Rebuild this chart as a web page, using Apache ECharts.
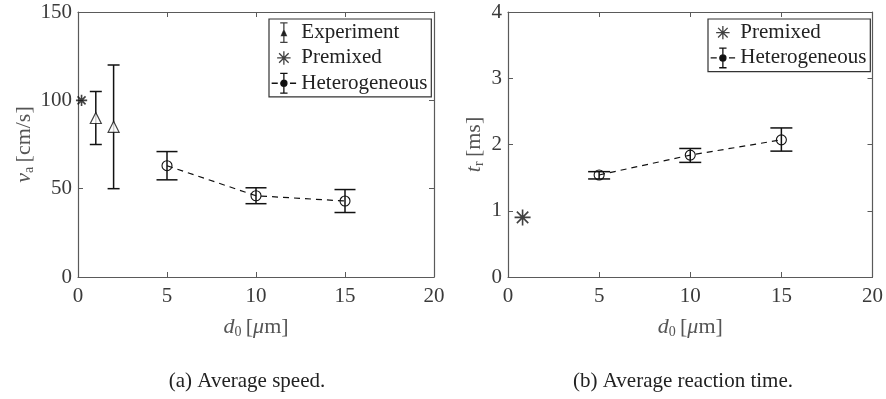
<!DOCTYPE html>
<html>
<head>
<meta charset="utf-8">
<script src="https://cdn.jsdelivr.net/npm/echarts@6/dist/echarts.min.js"></script>
<style>
  html, body { margin: 0; padding: 0; background: #fff; }
  #chart { width: 886px; height: 399px; }
</style>
</head>
<body>
<div id="chart"></div>
<script>
// (a) average speed
const expX = [1, 2];
const expSpeed = [90, 85];
const expSpeedLow = [75, 50];
const expSpeedHigh = [105, 120];
const preSpeedX = [0.2];
const preSpeed = [100];
const hetX = [5, 10, 15];
const hetSpeed = [63, 46, 43];
const hetSpeedLow = [55, 41.5, 36.5];
const hetSpeedHigh = [71, 50.5, 49.5];

// (b) average reaction time
const preTimeX = [0.8];
const preTime = [0.9];
const hetTime = [1.54, 1.84, 2.07];
const hetTimeLow = [1.48, 1.73, 1.9];
const hetTimeHigh = [1.59, 1.94, 2.25];

const xTicks = [0, 20, 5];
const speedTicks = [0, 150, 50];
const timeTicks = [0, 4, 1];

const font = "Liberation Serif";
const axisColor = "#5a5a5a";
const labelColor = "#3a3a3a";
const ink = "#111";

const starPath = "path://M0,0M20,20M10,2L10,18M2,10L18,10M4.3,4.3L15.7,15.7M15.7,4.3L4.3,15.7";

const rich = {
	i: { fontFamily: font, fontStyle: "italic", fontSize: 22, color: "#555" },
	s: { fontFamily: font, fontSize: 14, color: "#555", padding: [10, 1, 0, 0] },
	n: { fontFamily: font, fontSize: 22, color: "#555" },
};

const chart = echarts.init(document.getElementById("chart"), null, { renderer: "canvas" });

const errorBars = (name, xIdx, yIdx, xs, lows, highs, half) => ({
	type: "custom",
	name,
	xAxisIndex: xIdx,
	yAxisIndex: yIdx,
	silent: true,
	z: 2,
	encode: { x: 0, y: [1, 2] },
	data: xs.map((x, i) => [x, lows[i], highs[i]]),
	renderItem: (params, api) => {
		const lo = api.coord([api.value(0), api.value(1)]);
		const hi = api.coord([api.value(0), api.value(2)]);
		const style = { stroke: ink, lineWidth: 1.5 };
		return {
			type: "group",
			children: [
				{ type: "line", shape: { x1: lo[0], y1: lo[1], x2: hi[0], y2: hi[1] }, style },
				{ type: "line", shape: { x1: lo[0] - half, y1: lo[1], x2: lo[0] + half, y2: lo[1] }, style },
				{ type: "line", shape: { x1: hi[0] - half, y1: hi[1], x2: hi[0] + half, y2: hi[1] }, style },
			],
		};
	},
});

const xAxisPair = (grid) => {
	const base = {
		type: "value",
		gridIndex: grid,
		min: xTicks[0],
		max: xTicks[1],
		interval: xTicks[2],
		splitLine: { show: false },
		axisLine: { show: true, onZero: false, lineStyle: { color: axisColor, width: 1.2 } },
		axisTick: { show: true, inside: true, length: 5, lineStyle: { color: axisColor } },
	};
	return [
		{
			...base,
			position: "bottom",
			axisLabel: { margin: 9, fontFamily: font, fontSize: 21, color: labelColor },
			name: "{i|d}{s|0} {n|[}{i|μ}{n|m]}",
			nameLocation: "middle",
			nameGap: 38,
			nameTextStyle: { rich },
		},
		{ ...base, position: "top", axisLabel: { show: false } },
	];
};

const yAxisPair = (grid, ticks, name, gap) => {
	const base = {
		type: "value",
		gridIndex: grid,
		min: ticks[0],
		max: ticks[1],
		interval: ticks[2],
		splitLine: { show: false },
		axisLine: { show: true, onZero: false, lineStyle: { color: axisColor, width: 1.2 } },
		axisTick: { show: true, inside: true, length: 5, lineStyle: { color: axisColor } },
	};
	return [
		{
			...base,
			position: "left",
			axisLabel: { margin: 6, fontFamily: font, fontSize: 21, color: labelColor },
			name,
			nameLocation: "middle",
			nameGap: gap,
			nameTextStyle: { rich },
		},
		{ ...base, position: "right", axisLabel: { show: false } },
	];
};

const legendIcon = {
	Experiment: "path://M0,0M20,18M10,1L10,17M7,1L13,1M7,17L13,17M8,11.5L10,7L12,11.5Z",
	Premixed: "path://M0,0M20,18M10,3.5L10,14.5M4.5,9L15.5,9M6.1,5.1L13.9,12.9M13.9,5.1L6.1,12.9",
	Heterogeneous: "path://M0,0M20,18M0,9L5,9M15,9L20,9M10,1L10,17M7,1L13,1M7,17L13,17M12.5,9A2.5,2.5,0,1,1,7.5,9A2.5,2.5,0,1,1,12.5,9",
};

const legendFor = (names, left) => ({
	orient: "vertical",
	left,
	top: 19,
	padding: [2, 4, 2, 2],
	itemGap: 2,
	itemWidth: 25,
	itemHeight: 22,
	backgroundColor: "#fff",
	borderColor: "#333",
	borderWidth: 1.2,
	borderRadius: 0,
	selectedMode: false,
	textStyle: { fontFamily: font, fontSize: 21, color: "#222", lineHeight: 22 },
	data: names.map((n) => ({
		name: n,
		icon: legendIcon[n],
		itemStyle: { color: ink, borderColor: ink, borderWidth: 1.3 },
	})),
});

chart.setOption({
	animation: false,
	backgroundColor: "#fff",
	title: [
		{
			text: "(a) Average speed.",
			left: 247,
			top: 371,
			textAlign: "center",
			padding: 0,
			textStyle: { fontFamily: font, fontSize: 21, fontWeight: "normal", color: "#222" },
		},
		{
			text: "(b) Average reaction time.",
			left: 683,
			top: 371,
			textAlign: "center",
			padding: 0,
			textStyle: { fontFamily: font, fontSize: 21, fontWeight: "normal", color: "#222" },
		},
	],
	legend: [
		legendFor(["Experiment", "Premixed", "Heterogeneous"], 269),
		legendFor(["Premixed", "Heterogeneous"], 708),
	],
	grid: [
		{ left: 78, top: 12, width: 356, height: 265 },
		{ left: 508, top: 12, width: 366, height: 265 },
	],
	xAxis: [...xAxisPair(0), ...xAxisPair(1)],
	yAxis: [
		...yAxisPair(0, speedTicks, "{i|v}{s|a} {n|[cm/s]}", 42),
		...yAxisPair(1, timeTicks, "{i|t}{s|r} {n|[ms]}", 22),
	],
	series: [
		errorBars("expErr", 0, 0, expX, expSpeedLow, expSpeedHigh, 6),
		{
			name: "Experiment",
			type: "scatter",
			xAxisIndex: 0,
			yAxisIndex: 0,
			symbol: "triangle",
			symbolSize: 11,
			z: 3,
			itemStyle: { color: "#fff", borderColor: ink, borderWidth: 1.2 },
			data: expX.map((x, i) => [x, expSpeed[i]]),
		},
		{
			name: "Premixed",
			type: "scatter",
			xAxisIndex: 0,
			yAxisIndex: 0,
			symbol: starPath,
			symbolSize: 14,
			z: 3,
			itemStyle: { color: "none", borderColor: ink, borderWidth: 1.6 },
			data: preSpeedX.map((x, i) => [x, preSpeed[i]]),
		},
		errorBars("hetSpeedErr", 0, 0, hetX, hetSpeedLow, hetSpeedHigh, 10.5),
		{
			name: "Heterogeneous",
			type: "line",
			xAxisIndex: 0,
			yAxisIndex: 0,
			symbol: "circle",
			symbolSize: 10,
			z: 3,
			itemStyle: { color: "rgba(255,255,255,0)", borderColor: ink, borderWidth: 1.1 },
			lineStyle: { color: ink, width: 1.2, type: [6, 5] },
			data: hetX.map((x, i) => [x, hetSpeed[i]]),
		},
		{
			name: "Premixed",
			type: "scatter",
			xAxisIndex: 2,
			yAxisIndex: 2,
			symbol: starPath,
			symbolSize: 20,
			z: 3,
			itemStyle: { color: "none", borderColor: ink, borderWidth: 1.6 },
			data: preTimeX.map((x, i) => [x, preTime[i]]),
		},
		errorBars("hetTimeErr", 2, 2, hetX, hetTimeLow, hetTimeHigh, 11),
		{
			name: "Heterogeneous",
			type: "line",
			xAxisIndex: 2,
			yAxisIndex: 2,
			symbol: "circle",
			symbolSize: 10,
			z: 3,
			itemStyle: { color: "rgba(255,255,255,0)", borderColor: ink, borderWidth: 1.1 },
			lineStyle: { color: ink, width: 1.2, type: [6, 5] },
			data: hetX.map((x, i) => [x, hetTime[i]]),
		},
	],
});
</script>
</body>
</html>
